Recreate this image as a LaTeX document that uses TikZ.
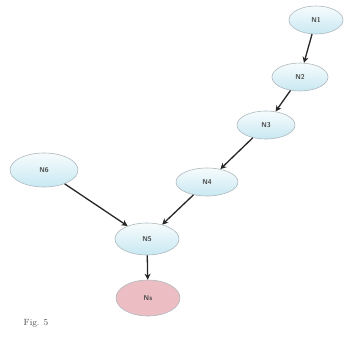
\documentclass[tikz,border=0pt]{standalone}
\usetikzlibrary{shapes.geometric,arrows.meta}
\definecolor{nodeblue}{RGB}{200,232,242}
\definecolor{nodepink}{RGB}{236,190,196}
\definecolor{edgegray}{RGB}{175,185,190}
\definecolor{txt}{RGB}{70,70,70}
\tikzset{
  bnode/.style={ellipse, draw=edgegray, line width=0.6pt, top color=white!85!nodeblue, bottom color=nodeblue, minimum width=#1, minimum height=28pt, inner sep=0pt, font=\sffamily\bfseries\scriptsize, text=txt},
  pnode/.style={ellipse, draw=edgegray, line width=0.6pt, fill=nodepink, minimum width=64pt, minimum height=36pt, inner sep=0pt, font=\sffamily\bfseries\scriptsize, text=txt},
  arr/.style={-{Stealth[length=6pt,width=6pt]}, line width=1.3pt, black!85}
}
\begin{document}
\begin{tikzpicture}[x=1pt,y=1pt]
\useasboundingbox (0,0) rectangle (356,-337);
\node[bnode=54pt] (n1) at (316,-20) {N1};
\node[bnode=56pt] (n2) at (300,-77) {N2};
\node[bnode=58pt] (n3) at (266,-125) {N3};
\node[bnode=62pt] (n4) at (207,-182) {N4};
\node[bnode=68pt, minimum height=34pt] (n6) at (44,-170) {N6};
\node[bnode=64pt, minimum height=32pt] (n5) at (147,-239) {N5};
\node[pnode] (ns) at (148,-298) {Ns};
\node[font=\small, text=txt] (fig) at (36,-323) {Fig. 5};
\draw[arr] (n1) -- (n2);
\draw[arr] (n2) -- (n3);
\draw[arr] (n3) -- (n4);
\draw[arr] (n4) -- (n5);
\draw[arr] (n6) -- (n5);
\draw[arr] (n5) -- (ns);
\end{tikzpicture}
\end{document}
